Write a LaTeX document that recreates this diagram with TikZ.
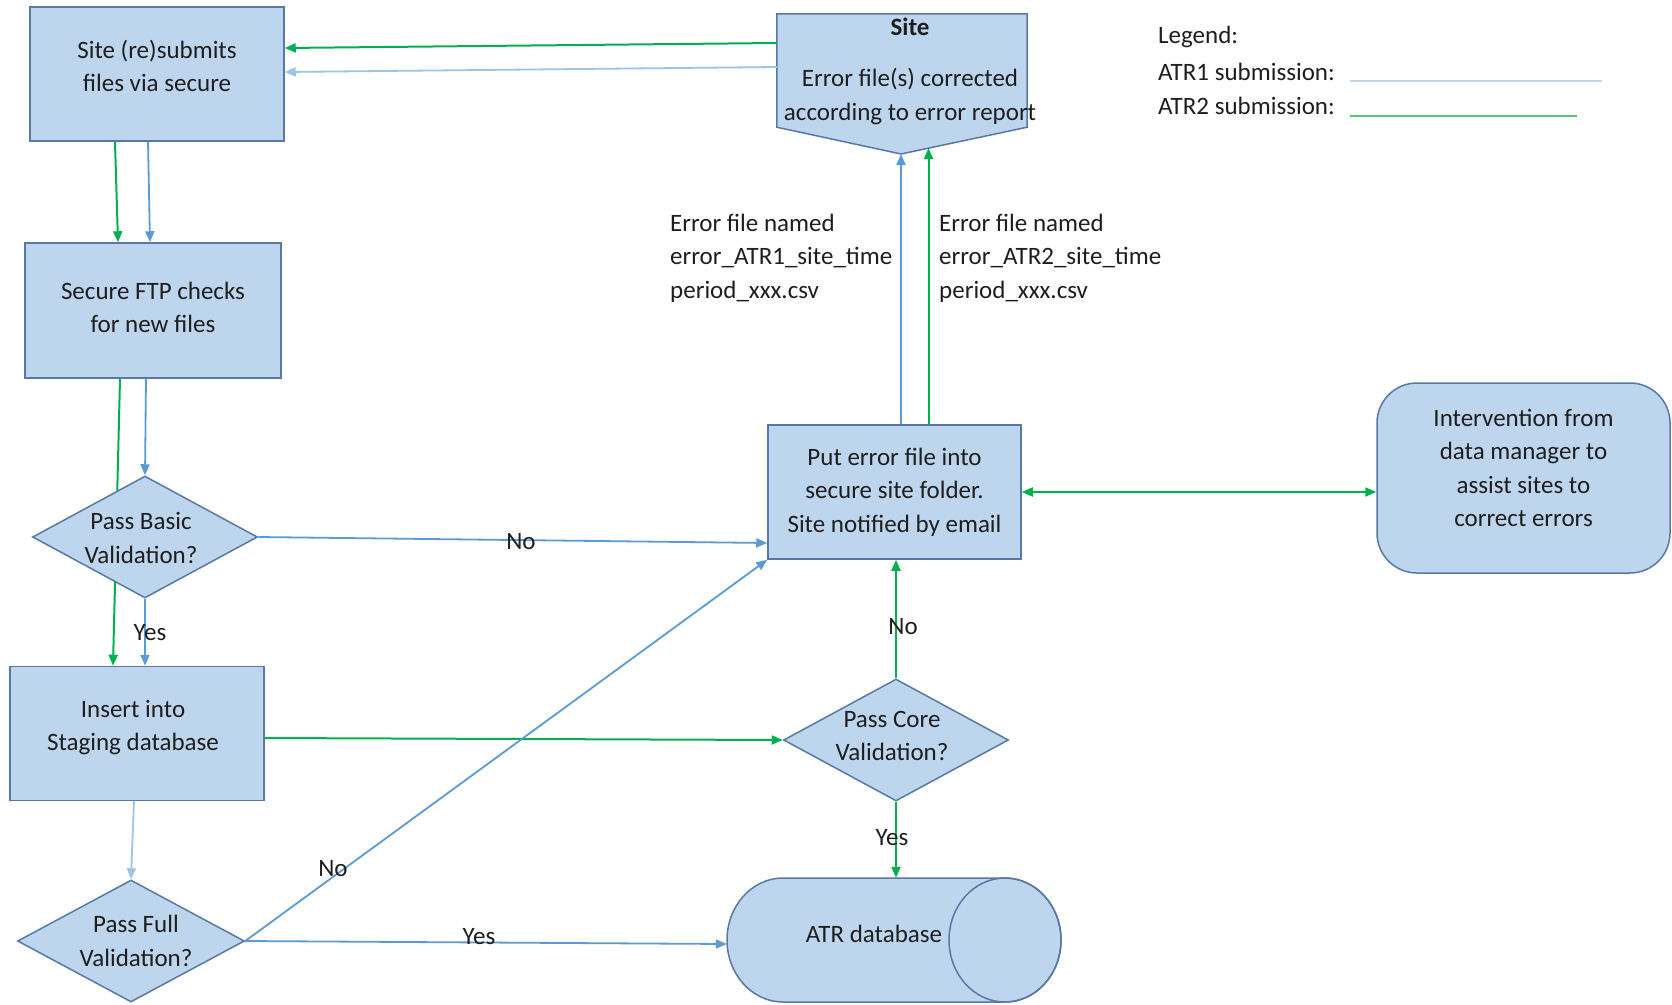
\documentclass[tikz,border=0pt]{standalone}
\usepackage{fontspec}
\setmainfont{Carlito}
\usetikzlibrary{arrows.meta,shapes.geometric,backgrounds}
\definecolor{boxfill}{RGB}{189,214,238}
\definecolor{boxline}{RGB}{88,120,165}
\definecolor{blueln}{RGB}{91,155,213}
\definecolor{lightln}{RGB}{157,195,230}
\definecolor{greenln}{RGB}{0,176,80}
\definecolor{legblue}{RGB}{196,212,228}
\definecolor{leggreen}{RGB}{80,200,130}
\definecolor{txtc}{RGB}{30,30,30}
\begin{document}
\begin{tikzpicture}[x=1pt,y=-1pt,
  every node/.style={font=\fontsize{25pt}{33.5pt}\selectfont, text=txtc},
  shapebox/.style={draw=boxline, fill=boxfill, line width=1.5pt, inner sep=0pt},
  diabox/.style={diamond, draw=boxline, fill=boxfill, line width=1.5pt, inner sep=0pt},
  lbl/.style={align=center, inner sep=0pt},
  arrowend/.style={-{Triangle[length=11pt,width=9pt]}},
  blueline/.style={draw=blueln, line width=1.8pt, arrowend},
  lightline/.style={draw=lightln, line width=1.8pt, arrowend},
  greenline/.style={draw=greenln, line width=2pt, arrowend},
]
\useasboundingbox (0,0) rectangle (1672,1004);
\begin{pgfonlayer}{background}
\fill[white] (0,0) rectangle (1672,1004);
\end{pgfonlayer}

% boxes
\node[shapebox, minimum width=254pt, minimum height=134pt,
  label={[lbl,yshift=8pt]center:{Site (re)submits\\files via secure}}] (box1) at (157,74) {};
\node[shapebox, minimum width=256pt, minimum height=135pt,
  label={[lbl,yshift=3pt]center:{Secure FTP checks\\for new files}}] (box2) at (153,310.5) {};
\node[diabox, minimum width=225pt, minimum height=122pt,
  label={[lbl,xshift=-4pt,yshift=-1pt]center:{Pass Basic\\Validation?}}] (d1) at (145,537) {};
\node[shapebox, minimum width=254pt, minimum height=134pt,
  label={[lbl,xshift=-4pt,yshift=6pt]center:{Insert into\\Staging database}}] (box3) at (137,733.5) {};
\node[diabox, minimum width=227pt, minimum height=122pt,
  label={[lbl,xshift=5pt]center:{Pass Full\\Validation?}}] (d2) at (131,941) {};
\node[diabox, minimum width=225pt, minimum height=122pt,
  label={[lbl,xshift=-4pt,yshift=4pt]center:{Pass Core\\Validation?}}] (d3) at (896,740) {};
\node[shapebox, minimum width=253pt, minimum height=134pt, align=center] (err) at (894.5,492)
  {Put error file into\\secure site folder.\\Site notified by email};
\node[shapebox, rounded corners=40pt, minimum width=293pt, minimum height=190pt,
  label={[lbl,yshift=10pt]center:{Intervention from\\data manager to\\assist sites to\\correct errors}}] (interv) at (1523.5,478) {};

% site pentagon
\node[minimum width=250pt, minimum height=113pt, inner sep=0pt] (site) at (902,70.5) {};
\coordinate (sitetip) at (901,154);
\coordinate (sitegreen) at (928.5,148);
\filldraw[draw=boxline, fill=boxfill, line width=1.5pt]
  (site.north west) -- (site.north east) -- (site.south east) -- (sitetip) -- (site.south west) -- cycle;
\node[lbl] (sitetxt) at (910,71) {\textbf{Site}\\[18pt]Error file(s) corrected\\according to error report};

% ATR database cylinder
\node[minimum width=334pt, minimum height=124pt, inner sep=0pt] (atr) at (894,940) {};
\filldraw[draw=boxline, fill=boxfill, line width=1.5pt]
  (783,878) -- (1005,878) arc[start angle=90, end angle=-90, x radius=56pt, y radius=62pt]
  -- (783,1002) arc[start angle=270, end angle=90, x radius=56pt, y radius=62pt] -- cycle;
\draw[draw=boxline, line width=1.5pt] (1005,940) ellipse [x radius=56pt, y radius=62pt];
\node[lbl] (atrtxt) at (874,934) {ATR database};

% error file labels
\node[lbl, anchor=west, align=left] (ef1) at (670,258) {Error file named\\error\_ATR1\_site\_time\\period\_xxx.csv};
\node[lbl, anchor=west, align=left] (ef2) at (939,258) {Error file named\\error\_ATR2\_site\_time\\period\_xxx.csv};

% legend
\node[lbl, anchor=west] (leg) at (1158,37) {Legend:};
\node[lbl, anchor=west] (leg1) at (1158,72) {ATR1 submission:};
\node[lbl, anchor=west] (leg2) at (1158,106) {ATR2 submission:};
\coordinate (l1a) at (1350,81);
\coordinate (l1b) at (1602,81);
\coordinate (l2a) at (1350,116);
\coordinate (l2b) at (1577,116);
\draw[legblue, line width=1.5pt] (l1a) -- (l1b);
\draw[leggreen, line width=1.5pt] (l2a) -- (l2b);

% connectors
\draw[greenline] ([yshift=27.5pt]site.west) -- ([yshift=26pt]box1.east);
\draw[lightline] ([yshift=3.5pt]site.west) -- ([yshift=2pt]box1.east);
\draw[greenline] ([xshift=-42pt]box1.south) -- ([xshift=-35pt]box2.north);
\draw[blueline] ([xshift=-9pt]box1.south) -- ([xshift=-3pt]box2.north);
\draw[blueline] ([xshift=-7pt]box2.south) -- (d1.north);
\begin{pgfonlayer}{background}
\draw[greenline] ([xshift=-33pt]box2.south) -- ([xshift=-24pt]box3.north);
\end{pgfonlayer}
\draw[blueline] (d1.south) -- ([xshift=8pt]box3.north);
\draw[blueline] (d1.east) -- ([yshift=-51pt]err.west);
\draw[greenline] ([yshift=-4.5pt]box3.east) -- (d3.west);
\draw[lightline] ([xshift=-3pt]box3.south) -- (d2.north);
\draw[blueline] (d2.east) -- (err.south west);
\draw[blueline] (d2.east) -- ([yshift=-4pt]atr.west);
\draw[greenline] (d3.north) -- (d3.north |- err.south);
\draw[greenline] (d3.south) -- (d3.south |- atr.north);
\draw[draw=greenln, line width=2pt, {Triangle[length=11pt,width=9pt]}-{Triangle[length=11pt,width=9pt]}]
  (err.east) -- (err.east -| interv.west);
\draw[blueline] ([xshift=6.5pt]err.north) -- (sitetip);
\draw[greenline] ([xshift=34pt]err.north) -- (sitegreen);

% edge labels
\node[lbl] (no1) at (521,542) {No};
\node[lbl] (yes1) at (150,633) {Yes};
\node[lbl] (no2) at (333,869) {No};
\node[lbl] (yes2) at (479,937) {Yes};
\node[lbl] (no3) at (903,627) {No};
\node[lbl] (yes3) at (892,838) {Yes};
\end{tikzpicture}
\end{document}
